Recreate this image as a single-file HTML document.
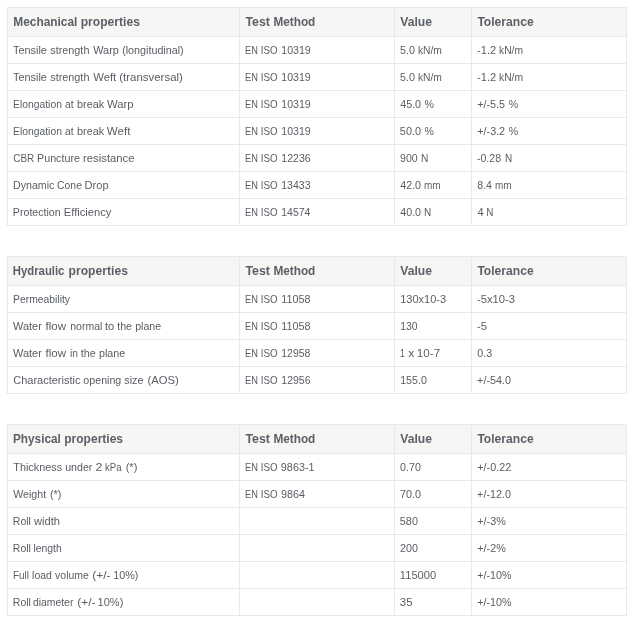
<!DOCTYPE html><html><head><meta charset="utf-8"><title>Properties</title><style>
html,body{margin:0;padding:0;background:#fff;}
body{width:634px;height:621px;position:relative;overflow:hidden;font-family:"Liberation Sans",Arial,sans-serif;}
table{position:absolute;left:7px;width:620px;border-collapse:separate;border-spacing:0;table-layout:fixed;border-left:1px solid #e9e9e9;border-top:1px solid #e9e9e9;}
td,th{box-sizing:border-box;border-right:1px solid #e9e9e9;border-bottom:1px solid #e9e9e9;padding:0 0 0 5px;text-align:left;vertical-align:middle;white-space:nowrap;overflow:hidden;}
th{height:29px;background:#f6f6f4;font-size:12px;font-weight:bold;color:#5b5f67;padding-top:0;}
td span,th span{display:inline-block;transform-origin:0 50%;}
td{height:27px;font-size:11px;color:#595d63;font-weight:normal;}
</style></head><body>
<table style="top:7px"><colgroup><col style="width:232px"><col style="width:155px"><col style="width:77px"><col style="width:155px"></colgroup>
<tr><th><span style="transform:translateX(0.35px) scaleX(0.989);">Mechanical</span> <span style="transform:translateX(-0.28px) scaleX(1.009);">properties</span></th><th><span style="transform:translateX(0.40px) scaleX(1.031);">Test</span> <span style="transform:translateX(1.39px) scaleX(0.982);">Method</span></th><th><span style="transform:translateX(0.24px) scaleX(1.012);">Value</span></th><th><span style="transform:translateX(0.38px) scaleX(1.008);">Tolerance</span></th></tr>
<tr><td><span style="transform:translateX(0.07px) scaleX(0.988);">Tensile</span> <span style="transform:translateX(0.22px) scaleX(0.986);">strength</span> <span style="transform:translateX(0.24px) scaleX(0.991);">Warp</span> <span style="transform:translateX(0.15px) scaleX(0.977);">(longitudinal)</span></td><td><span style="transform:translateX(-0.05px) scaleX(0.843);">EN</span> <span style="transform:translateX(-2.21px) scaleX(0.889);">ISO</span> <span style="transform:translateX(-3.63px) scaleX(0.960);">10319</span></td><td><span style="transform:translateX(-0.09px) scaleX(0.979);">5.0</span> <span style="transform:translateX(-0.11px) scaleX(0.935);">kN/m</span></td><td><span style="transform:translateX(0.02px) scaleX(1.013);">-1.2</span> <span style="transform:translateX(0.03px) scaleX(0.936);">kN/m</span></td></tr>
<tr><td><span style="transform:translateX(0.07px) scaleX(0.988);">Tensile</span> <span style="transform:translateX(0.22px) scaleX(0.986);">strength</span> <span style="transform:translateX(0.20px) scaleX(1.027);">Weft</span> <span style="transform:translateX(0.29px) scaleX(1.040);">(transversal)</span></td><td><span style="transform:translateX(-0.05px) scaleX(0.843);">EN</span> <span style="transform:translateX(-2.21px) scaleX(0.889);">ISO</span> <span style="transform:translateX(-3.63px) scaleX(0.960);">10319</span></td><td><span style="transform:translateX(-0.09px) scaleX(0.979);">5.0</span> <span style="transform:translateX(-0.11px) scaleX(0.935);">kN/m</span></td><td><span style="transform:translateX(0.02px) scaleX(1.013);">-1.2</span> <span style="transform:translateX(0.03px) scaleX(0.936);">kN/m</span></td></tr>
<tr><td><span style="transform:translateX(0.07px) scaleX(0.939);">Elongation</span> <span style="transform:translateX(-2.93px) scaleX(0.936);">at</span> <span style="transform:translateX(-2.97px) scaleX(0.989);">break</span> <span style="transform:translateX(-4.11px) scaleX(1.030);">Warp</span></td><td><span style="transform:translateX(-0.05px) scaleX(0.843);">EN</span> <span style="transform:translateX(-2.21px) scaleX(0.889);">ISO</span> <span style="transform:translateX(-3.63px) scaleX(0.960);">10319</span></td><td><span style="transform:translateX(0.23px) scaleX(0.974);">45.0</span> <span style="transform:translateX(0.39px) scaleX(0.962);">%</span></td><td><span style="transform:translateX(0.30px) scaleX(0.975);">+/-5.5</span> <span style="transform:translateX(-0.37px) scaleX(0.958);">%</span></td></tr>
<tr><td><span style="transform:translateX(0.07px) scaleX(0.939);">Elongation</span> <span style="transform:translateX(-2.93px) scaleX(0.936);">at</span> <span style="transform:translateX(-2.97px) scaleX(0.989);">break</span> <span style="transform:translateX(-4.29px) scaleX(1.055);">Weft</span></td><td><span style="transform:translateX(-0.05px) scaleX(0.843);">EN</span> <span style="transform:translateX(-2.21px) scaleX(0.889);">ISO</span> <span style="transform:translateX(-3.63px) scaleX(0.960);">10319</span></td><td><span style="transform:translateX(-0.15px) scaleX(0.986);">50.0</span> <span style="transform:translateX(0.39px) scaleX(0.962);">%</span></td><td><span style="transform:translateX(0.25px) scaleX(0.980);">+/-3.2</span> <span style="transform:translateX(-0.37px) scaleX(0.958);">%</span></td></tr>
<tr><td><span style="transform:translateX(0.31px) scaleX(0.901);">CBR</span> <span style="transform:translateX(-1.98px) scaleX(0.975);">Puncture</span> <span style="transform:translateX(-2.90px) scaleX(1.024);">resistance</span></td><td><span style="transform:translateX(-0.05px) scaleX(0.843);">EN</span> <span style="transform:translateX(-2.21px) scaleX(0.889);">ISO</span> <span style="transform:translateX(-3.67px) scaleX(0.961);">12236</span></td><td><span style="transform:translateX(0.12px) scaleX(0.950);">900</span> <span style="transform:translateX(0.03px) scaleX(0.925);">N</span></td><td><span style="transform:translateX(-0.11px) scaleX(0.965);">-0.28</span> <span style="transform:translateX(0.04px) scaleX(0.907);">N</span></td></tr>
<tr><td><span style="transform:translateX(-0.03px) scaleX(0.967);">Dynamic</span> <span style="transform:translateX(-1.90px) scaleX(0.943);">Cone</span> <span style="transform:translateX(-3.38px) scaleX(1.004);">Drop</span></td><td><span style="transform:translateX(-0.05px) scaleX(0.843);">EN</span> <span style="transform:translateX(-2.21px) scaleX(0.889);">ISO</span> <span style="transform:translateX(-3.77px) scaleX(0.959);">13433</span></td><td><span style="transform:translateX(0.23px) scaleX(0.974);">42.0</span> <span style="transform:translateX(0.05px) scaleX(0.906);">mm</span></td><td><span style="transform:translateX(0.28px) scaleX(0.961);">8.4</span> <span style="transform:translateX(0.06px) scaleX(0.903);">mm</span></td></tr>
<tr><td><span style="transform:translateX(-0.13px) scaleX(0.965);">Protection</span> <span style="transform:translateX(-2.13px) scaleX(1.014);">Efficiency</span></td><td><span style="transform:translateX(-0.05px) scaleX(0.843);">EN</span> <span style="transform:translateX(-2.21px) scaleX(0.889);">ISO</span> <span style="transform:translateX(-3.68px) scaleX(0.948);">14574</span></td><td><span style="transform:translateX(0.23px) scaleX(0.974);">40.0</span> <span style="transform:translateX(-0.01px) scaleX(0.908);">N</span></td><td><span style="transform:translateX(0.48px) scaleX(1.010);">4</span> <span style="transform:translateX(0.29px) scaleX(0.896);">N</span></td></tr>
</table>
<table style="top:256px"><colgroup><col style="width:232px"><col style="width:155px"><col style="width:77px"><col style="width:155px"></colgroup>
<tr><th><span style="transform:translateX(-0.19px) scaleX(0.943);">Hydraulic</span> <span style="transform:translateX(-2.44px) scaleX(1.011);">properties</span></th><th><span style="transform:translateX(0.40px) scaleX(1.031);">Test</span> <span style="transform:translateX(1.39px) scaleX(0.982);">Method</span></th><th><span style="transform:translateX(0.24px) scaleX(1.012);">Value</span></th><th><span style="transform:translateX(0.38px) scaleX(1.008);">Tolerance</span></th></tr>
<tr><td><span style="transform:translateX(0.07px) scaleX(0.941);">Permeability</span></td><td><span style="transform:translateX(-0.05px) scaleX(0.843);">EN</span> <span style="transform:translateX(-2.21px) scaleX(0.889);">ISO</span> <span style="transform:translateX(-3.73px) scaleX(0.980);">11058</span></td><td><span style="transform:translateX(0.13px) scaleX(1.001);">130x10-3</span></td><td><span style="transform:translateX(-0.09px) scaleX(1.022);">-5x10-3</span></td></tr>
<tr><td><span style="transform:translateX(0.05px) scaleX(0.994);">Water</span> <span style="transform:translateX(0.57px) scaleX(1.051);">flow</span> <span style="transform:translateX(2.24px) scaleX(0.956);">normal</span> <span style="transform:translateX(1.01px) scaleX(1.015);">to</span> <span style="transform:translateX(0.20px) scaleX(0.971);">the</span> <span style="transform:translateX(0.25px) scaleX(0.959);">plane</span></td><td><span style="transform:translateX(-0.05px) scaleX(0.843);">EN</span> <span style="transform:translateX(-2.21px) scaleX(0.889);">ISO</span> <span style="transform:translateX(-3.73px) scaleX(0.980);">11058</span></td><td><span style="transform:translateX(0.27px) scaleX(0.947);">130</span></td><td><span style="transform:translateX(-0.03px) scaleX(1.025);">-5</span></td></tr>
<tr><td><span style="transform:translateX(0.05px) scaleX(0.994);">Water</span> <span style="transform:translateX(0.57px) scaleX(1.051);">flow</span> <span style="transform:translateX(1.99px) scaleX(0.923);">in</span> <span style="transform:translateX(1.68px) scaleX(0.986);">the</span> <span style="transform:translateX(0.94px) scaleX(0.972);">plane</span></td><td><span style="transform:translateX(-0.05px) scaleX(0.843);">EN</span> <span style="transform:translateX(-2.21px) scaleX(0.889);">ISO</span> <span style="transform:translateX(-3.72px) scaleX(0.951);">12958</span></td><td><span style="transform:translateX(0.10px) scaleX(0.800);">1</span> <span style="transform:translateX(-0.71px) scaleX(1.089);">x</span> <span style="transform:translateX(-1.14px) scaleX(1.055);">10-7</span></td><td><span style="transform:translateX(0.33px) scaleX(0.964);">0.3</span></td></tr>
<tr><td><span style="transform:translateX(0.20px) scaleX(1.000);">Characteristic</span> <span style="transform:translateX(0.35px) scaleX(0.969);">opening</span> <span style="transform:translateX(-1.65px) scaleX(0.978);">size</span> <span style="transform:translateX(-0.51px) scaleX(1.024);">(AOS)</span></td><td><span style="transform:translateX(-0.05px) scaleX(0.843);">EN</span> <span style="transform:translateX(-2.21px) scaleX(0.889);">ISO</span> <span style="transform:translateX(-3.72px) scaleX(0.957);">12956</span></td><td><span style="transform:translateX(0.19px) scaleX(0.968);">155.0</span></td><td><span style="transform:translateX(0.11px) scaleX(0.979);">+/-54.0</span></td></tr>
</table>
<table style="top:424px"><colgroup><col style="width:232px"><col style="width:155px"><col style="width:77px"><col style="width:155px"></colgroup>
<tr><th><span style="transform:translateX(-0.06px) scaleX(0.983);">Physical</span> <span style="transform:translateX(-0.80px) scaleX(1.003);">properties</span></th><th><span style="transform:translateX(0.40px) scaleX(1.031);">Test</span> <span style="transform:translateX(1.39px) scaleX(0.982);">Method</span></th><th><span style="transform:translateX(0.24px) scaleX(1.012);">Value</span></th><th><span style="transform:translateX(0.38px) scaleX(1.008);">Tolerance</span></th></tr>
<tr><td><span style="transform:translateX(0.29px) scaleX(0.985);">Thickness</span> <span style="transform:translateX(-0.81px) scaleX(0.964);">under</span> <span style="transform:translateX(-1.55px) scaleX(1.120);">2</span> <span style="transform:translateX(-0.91px) scaleX(0.863);">kPa</span> <span style="transform:translateX(-2.30px) scaleX(0.999);">(*)</span></td><td><span style="transform:translateX(-0.05px) scaleX(0.843);">EN</span> <span style="transform:translateX(-2.21px) scaleX(0.889);">ISO</span> <span style="transform:translateX(-4.14px) scaleX(0.982);">9863-1</span></td><td><span style="transform:translateX(0.10px) scaleX(0.970);">0.70</span></td><td><span style="transform:translateX(0.28px) scaleX(0.980);">+/-0.22</span></td></tr>
<tr><td><span style="transform:translateX(0.13px) scaleX(0.969);">Weight</span> <span style="transform:translateX(-0.01px) scaleX(0.982);">(*)</span></td><td><span style="transform:translateX(-0.05px) scaleX(0.843);">EN</span> <span style="transform:translateX(-2.21px) scaleX(0.889);">ISO</span> <span style="transform:translateX(-3.91px) scaleX(0.976);">9864</span></td><td><span style="transform:translateX(-0.10px) scaleX(0.980);">70.0</span></td><td><span style="transform:translateX(0.11px) scaleX(0.979);">+/-12.0</span></td></tr>
<tr><td><span style="transform:translateX(-0.20px) scaleX(0.954);">Roll</span> <span style="transform:translateX(-1.03px) scaleX(1.014);">width</span></td><td></td><td><span style="transform:translateX(-0.20px) scaleX(0.988);">580</span></td><td><span style="transform:translateX(0.27px) scaleX(0.982);">+/-3%</span></td></tr>
<tr><td><span style="transform:translateX(-0.20px) scaleX(0.954);">Roll</span> <span style="transform:translateX(-1.48px) scaleX(0.942);">length</span></td><td></td><td><span style="transform:translateX(0.07px) scaleX(0.968);">200</span></td><td><span style="transform:translateX(0.27px) scaleX(0.982);">+/-2%</span></td></tr>
<tr><td><span style="transform:translateX(-0.09px) scaleX(0.910);">Full</span> <span style="transform:translateX(-1.88px) scaleX(0.946);">load</span> <span style="transform:translateX(-2.90px) scaleX(0.949);">volume</span> <span style="transform:translateX(-3.87px) scaleX(1.100);">(+/-</span> <span style="transform:translateX(-2.77px) scaleX(0.979);">10%)</span></td><td></td><td><span style="transform:translateX(-0.13px) scaleX(1.010);">115000</span></td><td><span style="transform:translateX(0.31px) scaleX(0.974);">+/-10%</span></td></tr>
<tr><td><span style="transform:translateX(-0.20px) scaleX(0.954);">Roll</span> <span style="transform:translateX(-2.09px) scaleX(0.945);">diameter</span> <span style="transform:translateX(-3.78px) scaleX(1.084);">(+/-</span> <span style="transform:translateX(-3.13px) scaleX(1.000);">10%)</span></td><td></td><td><span style="transform:translateX(-0.22px) scaleX(1.040);">35</span></td><td><span style="transform:translateX(0.31px) scaleX(0.974);">+/-10%</span></td></tr>
</table>
</body></html>
